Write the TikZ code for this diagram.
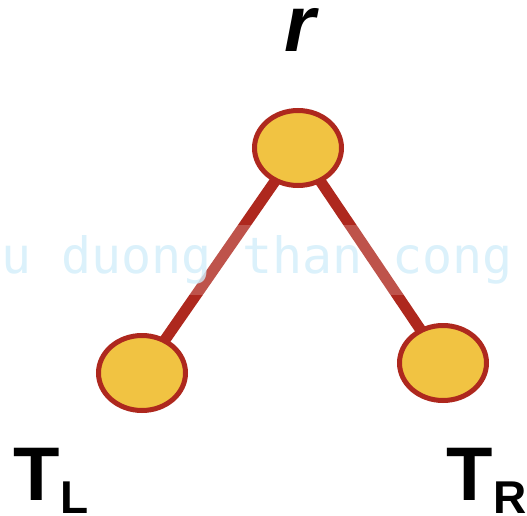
\documentclass[tikz,border=0pt]{standalone}
\usepackage{fontspec}
\setmainfont{Liberation Sans}
\newfontfamily\markfont{DejaVu Sans Mono}
\usepackage{xcolor}
\usetikzlibrary{positioning,shapes.geometric}
\definecolor{nodefill}{HTML}{F1C342}
\definecolor{linkred}{HTML}{AE281E}
\definecolor{markblue}{HTML}{D2EEFA}
\newcommand{\subletter}[1]{\raisebox{-13pt}{\fontsize{46}{46}\selectfont\bfseries #1}}

\begin{document}
\begin{tikzpicture}[
    x=1pt, y=-1pt,
    vertex/.style={ellipse, draw=linkred, line width=5pt, fill=nodefill, minimum width=87pt, minimum height=75pt, inner sep=0pt},
    link/.style={draw=linkred, line width=11pt},
    treelabel/.style={font=\fontsize{76}{80}\selectfont\bfseries, inner sep=0pt, anchor=base west, text height=56pt, text depth=13pt}
]
    \useasboundingbox (0,0) rectangle (527,516);
    \clip (0,0) rectangle (527,516);

    \coordinate (root) at (298,148);
    \coordinate (left) at (142,373);
    \coordinate (right) at (443,363);
    \draw[link] (root) -- (left);
    \draw[link] (root) -- (right);

    \node[vertex] (rootnode) at (root) {};
    \node[vertex] (leftnode) at (left) {};
    \node[vertex] (rightnode) at (right) {};

    % Labels
    \node[inner sep=0pt, anchor=base west, text height=42pt, text depth=0pt, font=\fontsize{80}{80}\selectfont\bfseries\itshape] (rlabel) at (284,52) {r};
    \node[treelabel] (tl) at (13.5,500) {T\subletter{L}};
    \node[treelabel] (tr) at (446.5,500) {T\subletter{R}};

    % watermark band
    \fill[white, opacity=0.2] (0,225) rectangle (527,295);
    \node[inner sep=0pt, anchor=base west, font=\markfont\fontsize{50}{50}\selectfont, text=markblue, opacity=0.8] (mark) at (1,273) {u duong than cong};
\end{tikzpicture}
\end{document}
